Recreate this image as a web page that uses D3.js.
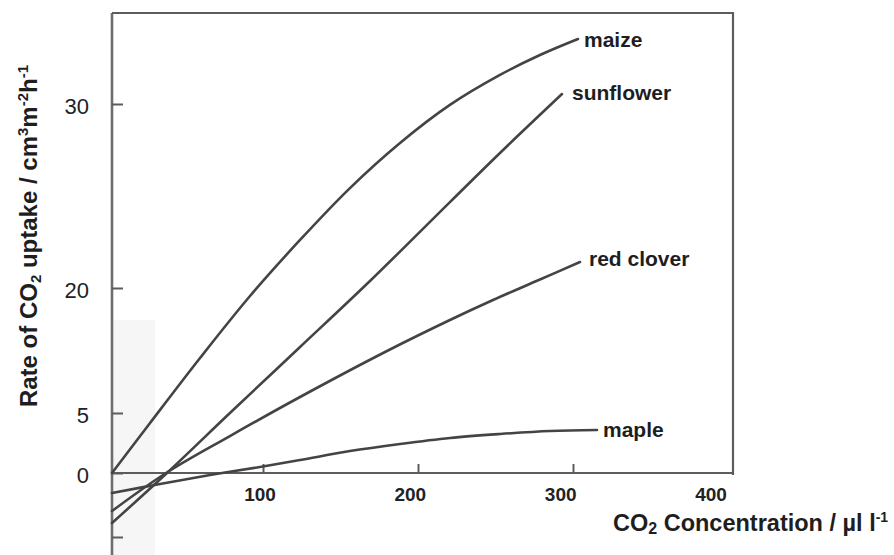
<!DOCTYPE html>
<html>
<head>
<meta charset="utf-8">
<script src="https://cdn.jsdelivr.net/npm/d3@7"></script>
<style>
  body { margin: 0; background: #fff; }
  svg { display: block; font-family: "Liberation Sans", Arial, sans-serif; }
</style>
</head>
<body>
<div id="chart"></div>
<script>
// CO2 concentration (x) and uptake rate (y)
const maizeX = [0, 25.2, 58.3, 91.4, 123.9, 156.1, 188.4, 220.6, 252.9, 278.7, 303.2];
const maizeY = [0, 4.17, 11.6, 19.04, 22.61, 25.43, 27.88, 29.95, 31.58, 32.66, 33.53];

const sunflowerX = [0, 36.4, 78.1, 123.9, 169, 220.6, 252.9, 292.9];
const sunflowerY = [-3.91, 0, 5, 12.92, 20.38, 24.67, 27.34, 30.54];

const cloverX = [0, 35.8, 78.1, 123.9, 180, 220.6, 248.4, 278.7, 304.5];
const cloverY = [-2.97, 0, 3.08, 6.92, 12.44, 16.16, 18.56, 20.46, 21.41];

const mapleX = [0, 31.8, 64.9, 98, 123.9, 156.1, 188.4, 220.6, 252.9, 285.2, 315.5];
const mapleY = [-1.56, -0.86, -0.16, 0.5, 1.08, 1.83, 2.42, 2.92, 3.25, 3.5, 3.58];

const seriesNames = ['maize', 'sunflower', 'red clover', 'maple'];

const yTicks = [-5, 0, 5, 20, 30];
const yTickLabels = ['', '0', '5', '20', '30'];
const xTicks = [100, 200, 300];
const xTickLabels = [100, 200, 300, 400];

const width = 894;
const height = 555;

const svg = d3.select('#chart')
  .append('svg')
  .attr('width', width)
  .attr('height', height);

// the printed axes are not evenly spaced, so both scales are piecewise
const xScale = d3.scaleLinear()
  .domain([0, 100, 300])
  .range([112, 263, 573]);

const xLabelScale = d3.scaleLinear()
  .domain([100, 400])
  .range([260, 711]);

const yScale = d3.scaleLinear()
  .domain([-5, 0, 5, 20, 30])
  .range([537, 473, 413, 288, 104]);

// faint scan shading near the lower left
svg.append('rect')
  .attr('x', 113).attr('y', 320)
  .attr('width', 42).attr('height', 235)
  .attr('fill', '#f6f6f6');

// frame
const frameLeft = 112, frameRight = 733, frameTop = 13;
const frameColor = '#5c5c5c';
svg.append('line')
  .attr('x1', frameLeft).attr('x2', frameLeft)
  .attr('y1', frameTop).attr('y2', height)
  .attr('stroke', '#6e6e6e')
  .attr('stroke-width', 2.6);
svg.append('path')
  .attr('d', `M${frameLeft},${frameTop} H${frameRight} V${yScale(0) + 2}`)
  .attr('fill', 'none')
  .attr('stroke', frameColor)
  .attr('stroke-width', 2.2);
svg.append('line')
  .attr('x1', frameLeft).attr('x2', frameRight)
  .attr('y1', yScale(0)).attr('y2', yScale(0))
  .attr('stroke', frameColor)
  .attr('stroke-width', 2.2);

// y axis ticks (pointing inward)
const yAxis = svg.append('g')
  .attr('transform', `translate(${frameLeft},0)`)
  .call(d3.axisLeft(yScale)
    .tickValues(yTicks)
    .tickSize(-11)
    .tickPadding(23)
    .tickFormat((d, i) => yTickLabels[i]));
yAxis.select('.domain').remove();
yAxis.selectAll('.tick line')
  .attr('stroke', frameColor)
  .attr('stroke-width', 2);
yAxis.selectAll('.tick text')
  .attr('font-size', 22)
  .attr('font-family', '"Liberation Sans", Arial, sans-serif')
  .attr('fill', '#222')
  .attr('dy', '0.42em');

// x axis ticks (pointing up from the zero line)
const xAxis = svg.append('g')
  .attr('transform', `translate(0,${yScale(0)})`)
  .call(d3.axisBottom(xScale)
    .tickValues(xTicks)
    .tickSize(-9)
    .tickFormat(''));
xAxis.select('.domain').remove();
xAxis.selectAll('.tick line')
  .attr('stroke', frameColor)
  .attr('stroke-width', 2);

svg.append('g')
  .selectAll('text')
  .data(xTickLabels)
  .enter()
  .append('text')
  .attr('x', d => xLabelScale(d))
  .attr('y', 501)
  .attr('text-anchor', 'middle')
  .attr('font-size', 19)
  .attr('font-weight', 'bold')
  .attr('fill', '#222')
  .text(d => d);

// curves
const seriesData = [
  maizeX.map((x, i) => [x, maizeY[i]]),
  sunflowerX.map((x, i) => [x, sunflowerY[i]]),
  cloverX.map((x, i) => [x, cloverY[i]]),
  mapleX.map((x, i) => [x, mapleY[i]])
];

const line = d3.line()
  .x(d => xScale(d[0]))
  .y(d => yScale(d[1]))
  .curve(d3.curveCatmullRom.alpha(0.5));

svg.selectAll('path.curve')
  .data(seriesData)
  .enter()
  .append('path')
  .attr('class', 'curve')
  .attr('d', line)
  .attr('fill', 'none')
  .attr('stroke', '#444')
  .attr('stroke-width', 2.6)
  .attr('stroke-linecap', 'round');

// labels at the end of each curve
const labelOffset = [[6, 1], [10, -1], [9, -3], [6, 0]];
svg.selectAll('text.series')
  .data(seriesData)
  .enter()
  .append('text')
  .attr('class', 'series')
  .attr('x', (d, i) => xScale(d[d.length - 1][0]) + labelOffset[i][0])
  .attr('y', (d, i) => yScale(d[d.length - 1][1]) + labelOffset[i][1])
  .attr('dy', '0.35em')
  .attr('font-size', 21)
  .attr('font-weight', 'bold')
  .attr('fill', '#1e1e1e')
  .text((d, i) => seriesNames[i]);

// axis titles
const yTitle = svg.append('text')
  .attr('transform', 'translate(37,236) rotate(-90)')
  .attr('text-anchor', 'middle')
  .attr('font-size', 24)
  .attr('font-weight', 'bold')
  .attr('fill', '#1e1e1e');
yTitle.append('tspan').text('Rate of CO');
yTitle.append('tspan').attr('font-size', 15).attr('dy', 4).text('2');
yTitle.append('tspan').attr('dy', -4).text(' uptake / cm');
yTitle.append('tspan').attr('font-size', 15).attr('dy', -9).text('3');
yTitle.append('tspan').attr('dy', 9).text('m');
yTitle.append('tspan').attr('font-size', 15).attr('dy', -9).text('-2');
yTitle.append('tspan').attr('dy', 9).text('h');
yTitle.append('tspan').attr('font-size', 15).attr('dy', -9).text('-1');

const xTitle = svg.append('text')
  .attr('x', 613)
  .attr('y', 531)
  .attr('font-size', 23.5)
  .attr('font-weight', 'bold')
  .attr('fill', '#1e1e1e');
xTitle.append('tspan').text('CO');
xTitle.append('tspan').attr('font-size', 16).attr('dy', 3).text('2');
xTitle.append('tspan').attr('dy', -3).text(' Concentration / µl l');
xTitle.append('tspan').attr('font-size', 14).attr('dy', -9).text('-1');
</script>
</body>
</html>
